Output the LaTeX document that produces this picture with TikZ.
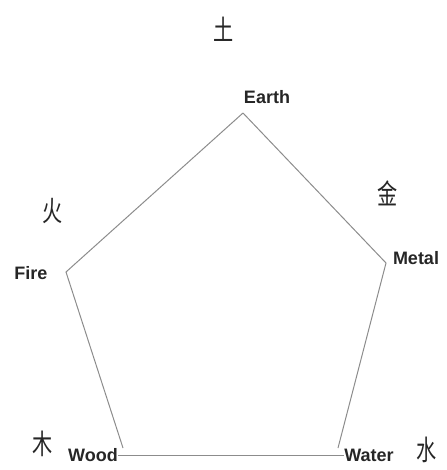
\documentclass[tikz,border=0pt]{standalone}
\usepackage{fontspec}
\setmainfont{Liberation Sans}
\newfontfamily\cjk{Noto Sans CJK SC}
\newcommand{\hanchar}[1]{\scalebox{0.72}[1]{#1}}
\begin{document}
\begin{tikzpicture}[x=1pt,y=-1pt,
  lbl/.style={font=\bfseries\fontsize{18}{20}\selectfont, inner sep=0pt, text=black!85},
  han/.style={font=\cjk\fontsize{28}{30}\selectfont, inner sep=0pt, text=black!85},
  edge/.style={draw=black!45, line width=1pt}]
\useasboundingbox (0,0) rectangle (446,470);
% labels
\node[lbl] (earth) at (267,97) {Earth};
\node[lbl] (fire) at (31,273) {Fire};
\node[lbl] (metal) at (416,258) {Metal};
\node[lbl] (wood) at (93,455) {Wood};
\node[lbl] (water) at (369,455) {Water};
% characters
\node[han] (tu) at (224,29) {\hanchar{土}};
\node[han] (huo) at (53,211) {\hanchar{火}};
\node[han] (jin) at (388,193) {\hanchar{金}};
\node[han] (mu) at (43,444) {\hanchar{木}};
\node[han] (shui) at (427,450) {\hanchar{水}};
% vertices
\coordinate (vE) at (243,113);
\coordinate (vF) at (66,272);
\coordinate (vM) at (386,263);
\coordinate (vWo) at (123,448);
\coordinate (vWa) at (338,448);
\draw[edge] (vE) -- (vM) -- (vWa);
\draw[edge] (vE) -- (vF) -- (vWo);
\draw[edge] (wood.east) -- (water.west);
\end{tikzpicture}
\end{document}
